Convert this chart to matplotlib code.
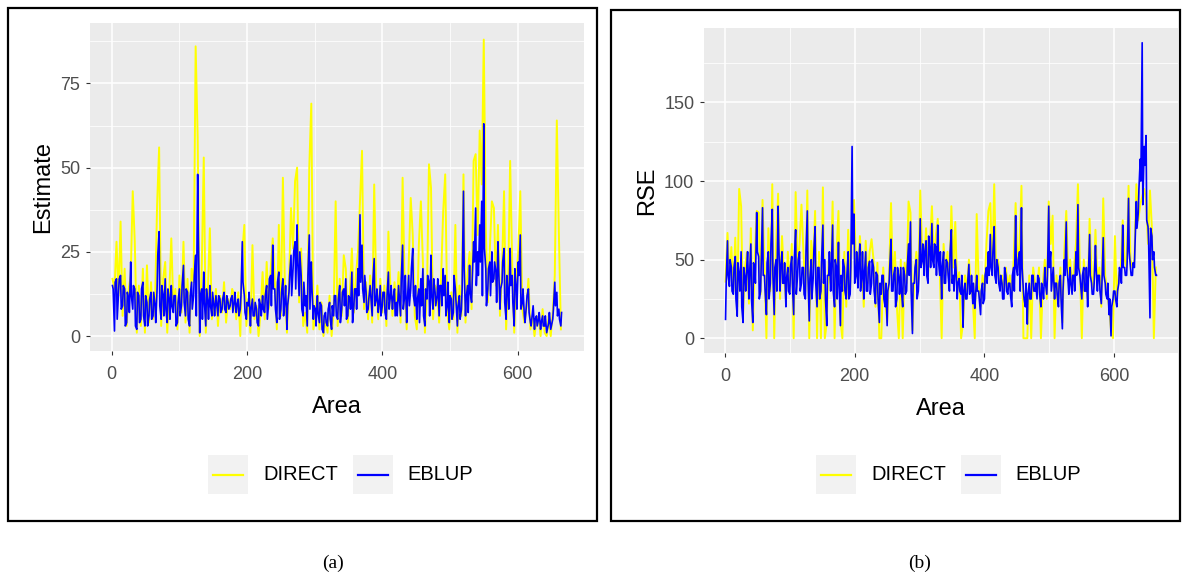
import numpy as np
import matplotlib
matplotlib.use("Agg")
import matplotlib.pyplot as plt
from matplotlib.patches import Rectangle
from matplotlib.lines import Line2D
from matplotlib.ticker import MultipleLocator

plt.rcParams['font.family'] = ['Liberation Sans', 'DejaVu Sans']

# area index (every 3rd area) plus the in-between areas for EBLUP
area = np.arange(1, 666, 3)
area_mid = np.arange(2, 666, 3)

# (a) Estimate
est_direct = [
    17, 14, 28, 12, 34, 6, 20, 3, 14, 18,
    43, 28, 1, 15, 3, 20, 1, 21, 4, 16,
    5, 10, 39, 56, 3, 17, 22, 1, 13, 29,
    9, 14, 2, 18, 7, 28, 4, 17, 1, 20,
    16, 86, 59, 0, 20, 53, 1, 13, 32, 5,
    8, 14, 3, 12, 7, 16, 4, 11, 8, 14,
    12, 5, 13, 0, 25, 33, 3, 11, 1, 27,
    5, 9, 0, 7, 19, 5, 22, 8, 20, 29,
    17, 2, 33, 6, 47, 14, 1, 16, 38, 26,
    46, 50, 10, 26, 3, 7, 1, 50, 69, 2,
    6, 15, 2, 10, 0, 5, 1, 12, 0, 7,
    40, 3, 17, 6, 24, 20, 4, 13, 26, 7,
    18, 25, 40, 55, 8, 16, 5, 18, 4, 45,
    14, 5, 17, 7, 15, 3, 31, 14, 6, 16,
    8, 19, 4, 47, 15, 2, 22, 41, 30, 6,
    2, 27, 40, 22, 1, 13, 51, 44, 5, 15,
    14, 4, 18, 37, 48, 7, 2, 13, 5, 33,
    1, 15, 6, 48, 4, 18, 25, 8, 52, 54,
    30, 61, 45, 88, 32, 10, 26, 40, 38, 15,
    33, 6, 20, 43, 2, 15, 52, 22, 1, 17,
    25, 43, 8, 4, 8, 17, 2, 6, 0, 5,
    6, 0, 8, 1, 0, 6, 0, 7, 18, 64,
    31, 2,
]
est_eblup = [
    15, 1.5, 17, 13, 18, 9, 14, 4, 11, 22,
    8, 14, 2, 12, 5, 16, 3, 10, 6, 13,
    6, 9, 14, 31, 5, 12, 17, 4, 11, 15,
    7, 12, 4, 14, 9, 21, 6, 13, 3, 16,
    12, 24, 48, 1, 14, 19, 3, 10, 15, 6,
    9, 12, 6, 11, 8, 13, 7, 10, 9, 12,
    10, 7, 11, 8, 28, 12, 5, 9, 3, 11,
    6, 8, 3, 9, 12, 7, 15, 10, 18, 27,
    14, 4, 19, 8, 17, 11, 2, 13, 24, 20,
    28, 33, 12, 18, 6, 9, 3, 30, 22, 5,
    8, 12, 4, 9, 1, 7, 3, 10, 2, 6,
    12, 5, 15, 8, 14, 17, 6, 11, 19, 9,
    14, 20, 36, 27, 10, 13, 8, 15, 6, 23,
    11, 7, 15, 9, 13, 5, 19, 12, 8, 14,
    10, 15, 6, 27, 12, 4, 18, 14, 26, 9,
    5, 14, 17, 20, 3, 11, 16, 24, 8, 13,
    12, 6, 15, 20, 18, 9, 4, 11, 7, 14,
    3, 12, 8, 43, 6, 15, 21, 10, 28, 38,
    25, 33, 40, 63, 20, 14, 22, 25, 17, 19,
    28, 8, 16, 26, 5, 12, 26, 18, 3, 14,
    22, 30, 10, 6, 9, 14, 4, 7, 2, 6,
    5, 2, 6, 3, 1, 4, 2, 5, 16, 13,
    8, 3,
]
est_eblup_mid = [
    14, 16, 5, 17, 8, 15, 3, 13, 7, 12,
    15, 3, 13, 4, 14, 6, 12, 3, 11, 5,
    13, 4, 24, 9, 15, 6, 8, 14, 5, 9,
    12, 3, 10, 6, 15, 10, 14, 5, 12, 8,
    18, 6, 30, 12, 5, 10, 14, 5, 9, 13,
    6, 10, 12, 7, 11, 8, 12, 8, 11, 7,
    13, 9, 6, 12, 16, 7, 10, 13, 8, 6,
    10, 4, 11, 6, 8, 12, 5, 17, 9, 14,
    8, 16, 5, 13, 6, 15, 9, 18, 12, 25,
    14, 22, 25, 8, 16, 12, 18, 8, 14, 9,
    3, 7, 10, 2, 6, 4, 8, 5, 9, 12,
    6, 11, 4, 13, 9, 5, 12, 8, 4, 14,
    8, 12, 16, 14, 18, 7, 11, 12, 16, 9,
    14, 9, 6, 13, 7, 12, 8, 15, 11, 6,
    6, 12, 17, 8, 18, 10, 9, 20, 12, 15,
    11, 4, 9, 6, 14, 18, 6, 12, 17, 9,
    17, 15, 9, 12, 6, 16, 12, 5, 18, 10,
    9, 5, 14, 20, 11, 7, 13, 17, 22, 15,
    18, 22, 12, 26, 9, 20, 12, 16, 22, 10,
    20, 14, 22, 10, 18, 8, 15, 10, 20, 8,
    18, 8, 14, 4, 12, 7, 3, 9, 5, 3,
    7, 4, 3, 6, 2, 7, 3, 8, 9, 6,
    5, 7,
]

# (b) RSE
rse_direct = [
    36, 67, 40, 58, 30, 64, 20, 95, 84, 15,
    45, 55, 22, 70, 5, 50, 81, 80, 28, 88,
    45, 0, 70, 30, 98, 0, 60, 92, 25, 65,
    40, 25, 55, 33, 60, 0, 93, 45, 60, 85,
    55, 30, 94, 0, 62, 45, 81, 0, 55, 0,
    96, 0, 10, 50, 35, 87, 0, 55, 81, 12,
    0, 55, 20, 69, 32, 70, 88, 45, 38, 65,
    45, 20, 62, 35, 55, 63, 50, 20, 48, 0,
    0, 45, 25, 10, 40, 86, 35, 55, 20, 0,
    50, 0, 48, 35, 87, 80, 5, 40, 55, 35,
    94, 55, 45, 70, 40, 60, 84, 48, 65, 76,
    45, 0, 60, 40, 55, 35, 84, 45, 74, 30,
    42, 0, 10, 40, 30, 50, 35, 25, 0, 79,
    35, 20, 40, 30, 60, 81, 86, 45, 98, 40,
    50, 35, 40, 30, 45, 32, 40, 25, 50, 86,
    45, 60, 97, 0, 0, 0, 40, 0, 45, 35,
    30, 45, 0, 35, 50, 25, 87, 60, 78, 0,
    40, 25, 45, 10, 55, 81, 40, 50, 32, 45,
    60, 98, 45, 0, 50, 35, 25, 76, 40, 32,
    69, 35, 45, 20, 89, 40, 30, 20, 5, 0,
    65, 25, 40, 45, 75, 50, 45, 97, 50, 45,
    50, 98, 75, 85, 90, 95, 88, 60, 94, 70,
    0, 45,
]
rse_eblup = [
    12, 62, 33, 45, 28, 52, 14, 40, 55, 10,
    38, 48, 25, 60, 10, 45, 80, 52, 30, 83,
    40, 15, 55, 35, 82, 15, 50, 84, 30, 55,
    35, 20, 45, 28, 52, 15, 69, 40, 55, 35,
    45, 25, 81, 11, 50, 38, 71, 20, 45, 30,
    72, 50, 8, 40, 30, 72, 20, 45, 61, 8,
    30, 45, 25, 55, 28, 122, 79, 40, 32, 60,
    40, 25, 55, 30, 49, 35, 45, 22, 40, 10,
    28, 40, 20, 8, 35, 63, 30, 45, 25, 38,
    45, 20, 40, 30, 60, 74, 3, 35, 50, 30,
    76, 50, 40, 62, 35, 55, 73, 45, 58, 72,
    40, 25, 55, 35, 48, 30, 69, 40, 50, 25,
    38, 28, 7, 35, 25, 47, 30, 22, 19, 40,
    30, 15, 35, 25, 45, 55, 66, 40, 71, 35,
    45, 30, 35, 25, 40, 28, 35, 20, 45, 78,
    40, 55, 83, 30, 20, 9, 35, 25, 40, 30,
    25, 38, 20, 30, 45, 28, 84, 55, 40, 25,
    35, 20, 40, 6, 50, 74, 35, 45, 28, 40,
    55, 85, 40, 25, 45, 30, 20, 66, 35, 28,
    59, 30, 40, 22, 64, 35, 25, 15, 1.5, 25,
    30, 20, 35, 40, 72, 45, 40, 89, 45, 40,
    45, 87, 80, 114, 188, 122, 129, 71, 13, 65,
    55, 40,
]
rse_eblup_mid = [
    35, 40, 50, 30, 45, 25, 48, 30, 20, 45,
    30, 55, 40, 25, 48, 35, 55, 25, 48, 40,
    30, 48, 25, 60, 40, 45, 30, 60, 45, 35,
    48, 38, 30, 45, 35, 50, 28, 50, 30, 45,
    28, 55, 40, 38, 25, 55, 35, 45, 25, 50,
    35, 25, 40, 55, 45, 30, 50, 25, 35, 40,
    50, 30, 40, 25, 45, 60, 35, 55, 45, 30,
    55, 40, 30, 45, 28, 50, 30, 42, 25, 35,
    40, 25, 35, 30, 45, 30, 40, 20, 45, 28,
    30, 45, 28, 45, 40, 30, 35, 45, 25, 40,
    45, 60, 55, 40, 65, 45, 50, 60, 40, 50,
    55, 45, 35, 50, 40, 55, 35, 30, 45, 35,
    30, 40, 30, 25, 35, 28, 40, 35, 25, 30,
    25, 30, 22, 40, 35, 40, 45, 55, 40, 50,
    35, 40, 25, 45, 30, 35, 28, 40, 30, 45,
    50, 30, 45, 25, 35, 28, 25, 40, 30, 35,
    40, 28, 35, 25, 35, 40, 45, 30, 45, 35,
    28, 35, 25, 30, 40, 45, 28, 35, 40, 30,
    40, 45, 35, 40, 30, 45, 38, 40, 28, 35,
    45, 40, 30, 35, 40, 28, 35, 25, 20, 30,
    25, 30, 45, 35, 45, 40, 50, 55, 40, 48,
    60, 70, 95, 100, 85, 110, 75, 60, 70, 50,
    45, 40,
]

series_names = ["DIRECT", "EBLUP"]
colors = ["#FFFF00", "#0000FF"]

W, H = 1189, 574
fig = plt.figure(figsize=(W / 100, H / 100), dpi=100)


def px(x, y):
    # pixel (from top-left) -> figure fraction
    return x / W, 1 - y / H


def merged(a, b):
    xs = np.concatenate([area, area_mid])
    ys = np.concatenate([a, b])
    o = np.argsort(xs)
    return xs[o], ys[o]


def gg_axes(rect, ymajor, ymax, ylabel):
    ax = fig.add_axes(rect)
    ax.set_facecolor("#EBEBEB")
    for s in ax.spines.values():
        s.set_visible(False)
    ax.xaxis.set_major_locator(MultipleLocator(200))
    ax.xaxis.set_minor_locator(MultipleLocator(100))
    ax.yaxis.set_major_locator(MultipleLocator(ymajor))
    ax.yaxis.set_minor_locator(MultipleLocator(ymajor / 2))
    ax.grid(which="major", color="white", linewidth=1.1)
    ax.grid(which="minor", color="white", linewidth=0.55)
    ax.set_axisbelow(True)
    ax.tick_params(which="major", length=3, width=0.8, color="#333333",
                   labelcolor="#4D4D4D", labelsize=13)
    ax.tick_params(axis="x", pad=8)
    ax.tick_params(axis="y", pad=4)
    ax.tick_params(which="minor", length=0)
    ax.set_xlim(1 - 0.05 * 664, 665 + 0.05 * 664)
    ax.set_ylim(-0.05 * ymax, ymax * 1.05)
    ax.set_xlabel("Area", fontsize=17, labelpad=9)
    ax.set_ylabel(ylabel, fontsize=17, labelpad=4)
    return ax


x0, y0 = px(90, 351)
x1, y1 = px(584, 23)
ax1 = gg_axes([x0, y0, x1 - x0, y1 - y0], 25, 88.5, "Estimate")
ax1.plot(area, est_direct, color=colors[0], linewidth=1.4)
ax1.plot(*merged(est_eblup, est_eblup_mid), color=colors[1], linewidth=1.2)

x0, y0 = px(704, 353)
x1, y1 = px(1178, 28)
ax2 = gg_axes([x0, y0, x1 - x0, y1 - y0], 50, 188, "RSE")
ax2.plot(area, rse_direct, color=colors[0], linewidth=1.4)
ax2.plot(*merged(rse_eblup, rse_eblup_mid), color=colors[1], linewidth=1.2)


def legend_at(xk):
    offs = [(0, 55), (145, 199)]
    for (ko, to), name, c in zip(offs, series_names, colors):
        bx, by = px(xk + ko, 494)
        fig.add_artist(Rectangle((bx, by), 40 / W, 39 / H, transform=fig.transFigure,
                                 facecolor="#F2F2F2", edgecolor="none"))
        lx0, ly = px(xk + ko + 5, 474.5)
        lx1, _ = px(xk + ko + 35, 474.5)
        fig.add_artist(Line2D([lx0, lx1], [ly, ly], transform=fig.transFigure,
                              color=c, linewidth=1.6))
        tx, ty = px(xk + to, 474.5)
        fig.text(tx, ty, name, fontsize=14.5, color="black", va="center", ha="left")


legend_at(208)
legend_at(816)

# outer frames of the two sub-figures
for (l, t, r, b) in [(8, 8, 597, 521), (611, 10, 1180, 521)]:
    fx, fy = px(l, b)
    fig.add_artist(Rectangle((fx, fy), (r - l) / W, (b - t) / H, transform=fig.transFigure,
                             facecolor="none", edgecolor="black", linewidth=1.6))

fig.text(333 / W, 1 - 563 / H, "(a)", fontsize=14, family="Liberation Serif",
         ha="center", va="center")
fig.text(920 / W, 1 - 563 / H, "(b)", fontsize=14, family="Liberation Serif",
         ha="center", va="center")

fig.savefig("out.png", dpi=100)
